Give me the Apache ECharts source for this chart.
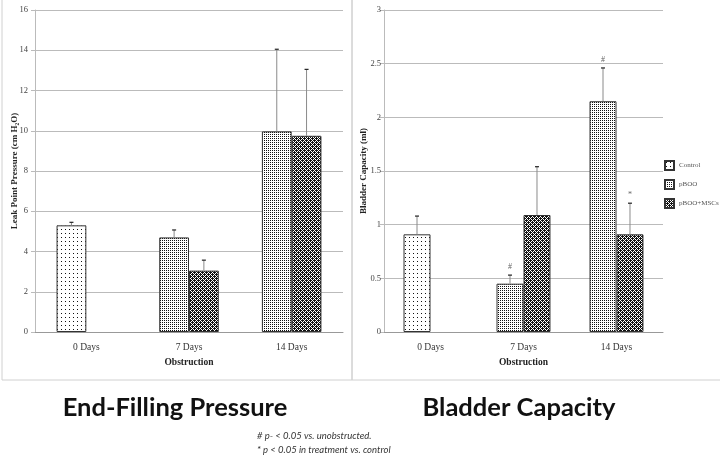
<!DOCTYPE html>
<html>
<head>
<meta charset="utf-8">
<script src="https://cdn.jsdelivr.net/npm/echarts@6/dist/echarts.min.js"></script>
<style>
  html, body { margin: 0; padding: 0; background: #fff; }
  #chart { width: 720px; height: 459px; }
</style>
</head>
<body>
<div id="chart"></div>
<script>
// values
const days = ['0 Days', '7 Days', '14 Days'];
const groups = ['Control', 'pBOO', 'pBOO+MSCs'];

const pressureControl = [5.3, null, null];
const pressurePboo = [null, 4.7, 9.97];
const pressureMsc = [null, 3.05, 9.75];
const pressureControlSd = [0.15, null, null];
const pressurePbooSd = [null, 0.37, 4.08];
const pressureMscSd = [null, 0.52, 3.3];
const pressureTicks = [0, 16, 2];

const capacityControl = [0.91, null, null];
const capacityPboo = [null, 0.45, 2.15];
const capacityMsc = [null, 1.09, 0.91];
const capacityControlSd = [0.17, null, null];
const capacityPbooSd = [null, 0.08, 0.31];
const capacityMscSd = [null, 0.45, 0.29];
const capacityPbooMarks = ['', '#', '#'];
const capacityMscMarks = ['', '', '*'];
const capacityTicks = [0, 3, 0.5];

const GAP = 0.42;

function makePattern(size, bg, fg, isInk) {
  const c = document.createElement('canvas');
  c.width = size; c.height = size;
  const ctx = c.getContext('2d');
  ctx.fillStyle = bg;
  ctx.fillRect(0, 0, size, size);
  ctx.fillStyle = fg;
  for (let x = 0; x < size; x++) {
    for (let y = 0; y < size; y++) {
      if (isInk(x, y)) ctx.fillRect(x, y, 1, 1);
    }
  }
  return { image: c, repeat: 'repeat' };
}

const controlFill = makePattern(4, '#fff', '#111', (x, y) => x === 1 && y === 1);
const pbooFill = makePattern(2, '#fff', '#111', (x, y) => x === 0 && y === 0);
const mscFill = makePattern(4, '#fff', '#111', (x, y) => (x + y) % 4 !== 0 && (x - y + 4) % 4 !== 0);

const fills = { Control: controlFill, pBOO: pbooFill, 'pBOO+MSCs': mscFill };

function barSeries(name, data, idx, stack) {
  return {
    type: 'bar',
    name: name,
    data: data,
    stack: stack + idx,
    xAxisIndex: idx,
    yAxisIndex: idx,
    barGap: '0%',
    barCategoryGap: GAP * 100 + '%',
    itemStyle: { color: fills[name], borderColor: '#333', borderWidth: 1 },
    emphasis: { disabled: true },
    silent: true
  };
}

function errorRows(slot, means, sds, marks) {
  const rows = [];
  means.forEach((m, i) => {
    if (m != null) rows.push([i, m, sds[i], slot, marks ? marks[i] : '']);
  });
  return rows;
}

function errorSeries(idx, rows) {
  return {
    type: 'custom',
    xAxisIndex: idx,
    yAxisIndex: idx,
    data: rows,
    z: 5,
    silent: true,
    encode: { x: 0, y: 1 },
    renderItem: (params, api) => {
      const row = rows[params.dataIndex];
      const band = api.size([1, 0])[0];
      const bw = band * (1 - GAP) / 2;
      const base = api.coord([row[0], row[1]]);
      const x = base[0] + (row[3] === 0 ? -bw / 2 : bw / 2);
      const yTop = api.coord([row[0], row[1] + row[2]])[1];
      const children = [
        { type: 'line', shape: { x1: x, y1: base[1], x2: x, y2: yTop },
          style: { stroke: '#8a8a8a', lineWidth: 1 } },
        { type: 'line', shape: { x1: x - 2, y1: yTop, x2: x + 2, y2: yTop },
          style: { stroke: '#222', lineWidth: 1.2 } }
      ];
      if (row[4]) {
        children.push({ type: 'text', x: x, y: yTop - 4,
          style: { text: row[4], fill: '#666', font: '8px "Liberation Serif"', align: 'center', verticalAlign: 'bottom' } });
      }
      return { type: 'group', children: children };
    }
  };
}

const serif = '"Liberation Serif", "DejaVu Serif", serif';

function xAxis(idx) {
  return {
    type: 'category',
    gridIndex: idx,
    data: days,
    name: 'Obstruction',
    nameLocation: 'middle',
    nameGap: 26,
    nameTextStyle: { fontFamily: serif, fontWeight: 'bold', fontSize: 9.5, color: '#222' },
    axisLine: { lineStyle: { color: '#999' } },
    axisTick: { length: 3, lineStyle: { color: '#999' } },
    axisLabel: { fontFamily: serif, fontSize: 9.5, color: '#333', margin: 10 }
  };
}

function yAxis(idx, ticks, name, gap, margin) {
  return {
    type: 'value',
    gridIndex: idx,
    min: ticks[0],
    max: ticks[1],
    interval: ticks[2],
    name: name,
    nameLocation: 'middle',
    nameGap: gap,
    nameMoveOverlap: false,
    nameTextStyle: { fontFamily: serif, fontWeight: 'bold', fontSize: 9, color: '#222' },
    axisLine: { show: true, lineStyle: { color: '#bbb' } },
    axisTick: { show: true, length: 4, lineStyle: { color: '#bbb' } },
    axisLabel: { fontFamily: serif, fontSize: 8.5, color: '#444', margin: margin },
    splitLine: { lineStyle: { color: '#bbb' } }
  };
}

const titleFont = 'bold 25.5px Lato, "Open Sans", sans-serif';
const noteFont = 'italic 9.5px Lato, "Open Sans", sans-serif';

const chart = echarts.init(document.getElementById('chart'));

chart.setOption({
  backgroundColor: '#fff',
  animation: false,
  grid: [
    { left: 35, right: 377, top: 10, bottom: 127 },
    { left: 384, right: 57, top: 10, bottom: 127 }
  ],
  legend: {
    data: groups,
    orient: 'vertical',
    left: 664,
    top: 160,
    padding: 0,
    itemWidth: 9,
    itemHeight: 9,
    itemGap: 8,
    icon: 'rect',
    textStyle: { fontFamily: serif, fontSize: 7, color: '#555' },
    selectedMode: false
  },
  xAxis: [xAxis(0), xAxis(1)],
  yAxis: [
    yAxis(0, pressureTicks, 'Leak Point Pressure (cm H\u2082O)', 16, 7),
    yAxis(1, capacityTicks, 'Bladder Capacity (ml)', 16, 3)
  ],
  series: [
    barSeries('Control', pressureControl, 0, 'first'),
    barSeries('pBOO', pressurePboo, 0, 'first'),
    barSeries('pBOO+MSCs', pressureMsc, 0, 'second'),
    errorSeries(0, errorRows(0, pressureControl, pressureControlSd)
      .concat(errorRows(0, pressurePboo, pressurePbooSd))
      .concat(errorRows(1, pressureMsc, pressureMscSd))),
    barSeries('Control', capacityControl, 1, 'first'),
    barSeries('pBOO', capacityPboo, 1, 'first'),
    barSeries('pBOO+MSCs', capacityMsc, 1, 'second'),
    errorSeries(1, errorRows(0, capacityControl, capacityControlSd)
      .concat(errorRows(0, capacityPboo, capacityPbooSd, capacityPbooMarks))
      .concat(errorRows(1, capacityMsc, capacityMscSd, capacityMscMarks)))
  ],
  graphic: [
    { type: 'rect', shape: { x: 2, y: -2, width: 350, height: 382 },
      style: { fill: 'none', stroke: '#d0d0d0', lineWidth: 1 }, silent: true },
    { type: 'rect', shape: { x: 352, y: -2, width: 372, height: 382 },
      style: { fill: 'none', stroke: '#d0d0d0', lineWidth: 1 }, silent: true },
    { type: 'text', x: 175, y: 408,
      style: { text: 'End-Filling Pressure', font: titleFont, fill: '#111', align: 'center', verticalAlign: 'middle' } },
    { type: 'text', x: 519, y: 408,
      style: { text: 'Bladder Capacity', font: titleFont, fill: '#111', align: 'center', verticalAlign: 'middle' } },
    { type: 'text', x: 257, y: 436,
      style: { text: '# p- < 0.05 vs. unobstructed.', font: noteFont, fill: '#333', verticalAlign: 'middle' } },
    { type: 'text', x: 257, y: 450,
      style: { text: '* p < 0.05 in treatment vs. control', font: noteFont, fill: '#333', verticalAlign: 'middle' } }
  ]
});
</script>
</body>
</html>
